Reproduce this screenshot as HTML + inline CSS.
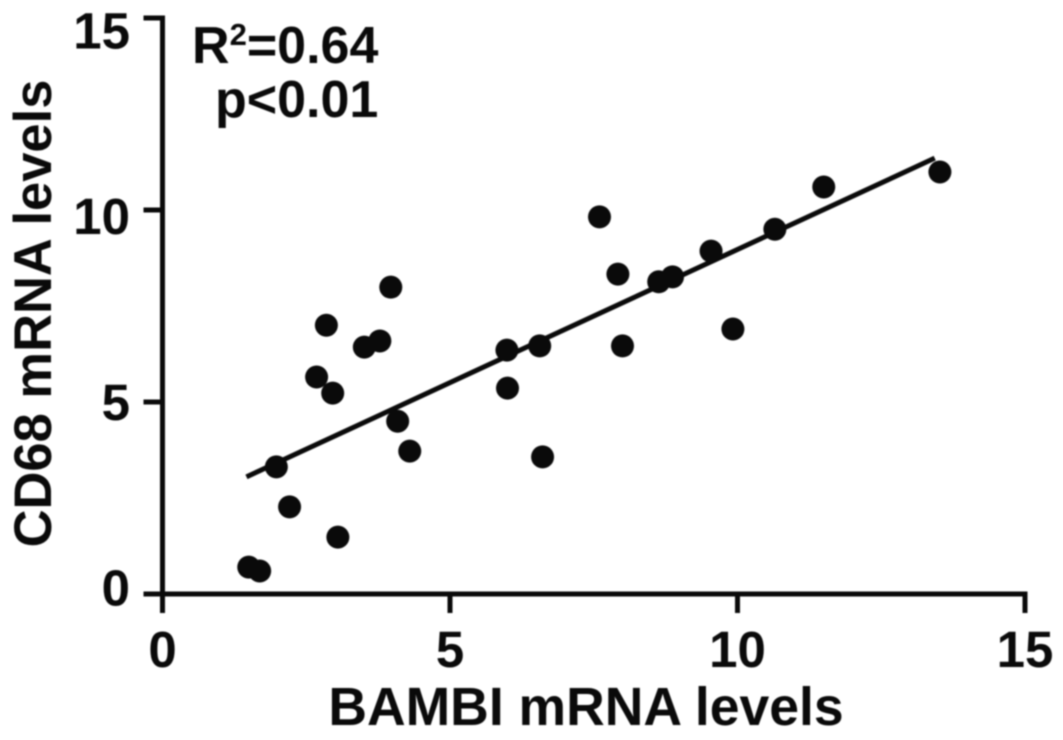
<!DOCTYPE html>
<html>
<head>
<meta charset="utf-8">
<style>
html,body{margin:0;padding:0;background:#fff;width:1063px;height:740px;overflow:hidden}
svg{display:block;filter:blur(0.8px)}
text{font-family:"Liberation Sans",sans-serif;font-weight:bold;fill:#0a0a0a}
</style>
</head>
<body>
<svg id="chart" width="1063" height="740" viewBox="0 0 1063 740" xmlns="http://www.w3.org/2000/svg">
<rect width="1063" height="740" fill="#fff"/>
<text x="192" y="63" font-size="52">R<tspan font-size="31" dy="-18">2</tspan><tspan dy="18">=0.64</tspan></text>
<text x="215" y="117" font-size="52">p&lt;0.01</text>
<text x="586" y="725" font-size="53.5" text-anchor="middle">BAMBI mRNA levels</text>
<text x="0" y="0" font-size="52.5" text-anchor="middle" transform="translate(51,313.5) rotate(-90)">CD68 mRNA levels</text>
</svg>
<script>
const xTicks = [0, 5, 10, 15];
const yTicks = [0, 5, 10, 15];
const bambiValues = [1.50,1.69,1.98,2.21,2.68,2.85,2.96,3.05,3.51,3.78,3.97,4.09,4.30,5.99,6.00,6.56,6.61,7.60,7.92,8.00,8.63,8.87,9.54,9.92,10.65,11.50,13.52];
const cd68Values = [0.70,0.60,3.31,2.27,5.65,7.00,5.23,1.48,6.43,6.59,7.99,4.50,3.72,6.35,5.36,6.46,3.57,9.82,8.33,6.46,8.13,8.26,8.93,6.90,9.50,10.60,10.99];
const fitX = [1.46, 13.43];
const fitY = [3.05, 11.35];

const svg = document.getElementById('chart');
const NS = 'http://www.w3.org/2000/svg';
const xScale = v => 162.5 + v * (1025 - 162.5) / 15;
const yScale = v => 594 - v * (594 - 18) / 15;
// y tick labels sit on a slightly tighter spacing than the ticks in the reference
const yLabelScale = v => 605.5 - v * (605.5 - 48.5) / 15;

function make(tag, attrs) {
  const el = document.createElementNS(NS, tag);
  for (const k in attrs) el.setAttribute(k, attrs[k]);
  svg.appendChild(el);
  return el;
}
const stroke = {stroke: '#0a0a0a', 'stroke-width': 5};

const xAxis = make('line', Object.assign({x1: xScale(0) - 19, x2: xScale(15) + 2.5, y1: yScale(0), y2: yScale(0)}, stroke));


const yAxis = make('line', Object.assign({x1: xScale(0), x2: xScale(0), y1: yScale(0) + 2, y2: yScale(15) - 2.5}, stroke));



xTicks.forEach(t => {
  const tick = make('line', Object.assign({x1: xScale(t), x2: xScale(t), y1: yScale(0), y2: yScale(0) + 19}, stroke));
  
  
  const label = make('text', {x: xScale(t), y: 667, 'font-size': 51, 'text-anchor': 'middle'});
  label.textContent = t;
  
  
});
yTicks.forEach(t => {
  const tick = make('line', Object.assign({x1: xScale(0) - 19, x2: xScale(0), y1: yScale(t), y2: yScale(t)}, stroke));
  
  
  const label = make('text', {x: 130, y: yLabelScale(t), 'font-size': 51, 'text-anchor': 'end'});
  label.textContent = t;
  
  
});

const fit = make('line', Object.assign({x1: xScale(fitX[0]), y1: yScale(fitY[0]), x2: xScale(fitX[1]), y2: yScale(fitY[1])}, stroke));



bambiValues.forEach((v, i) => {
  const dot = make('circle', {cx: xScale(v), cy: yScale(cd68Values[i]), r: 11.5, fill: '#0a0a0a'});
  
  
});
</script>
</body>
</html>
